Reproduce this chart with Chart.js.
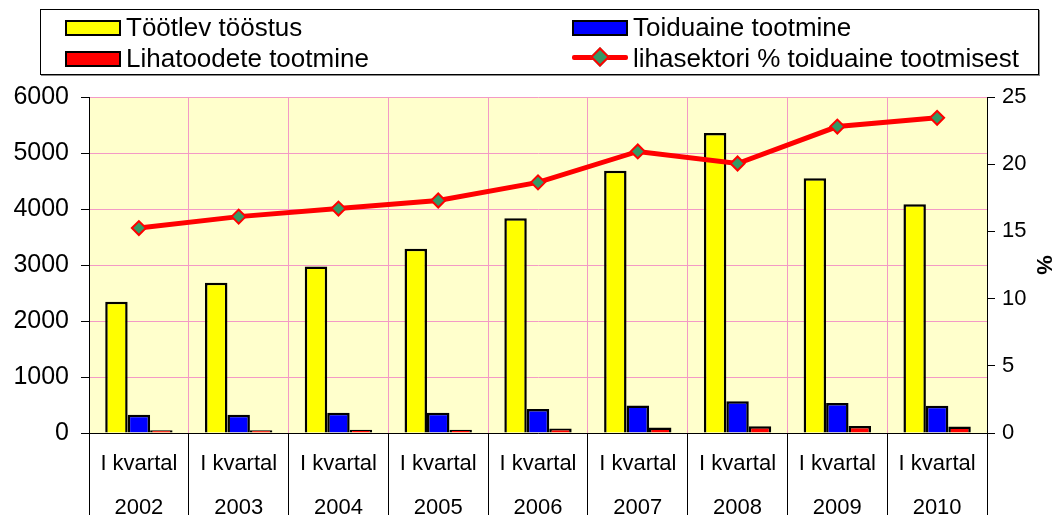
<!DOCTYPE html>
<html>
<head>
<meta charset="utf-8">
<script src="https://cdn.jsdelivr.net/npm/chart.js@4"></script>
<style>
  html, body { margin: 0; padding: 0; background: #fff; overflow: hidden; }
  #wrap { position: absolute; left: 0; top: 0; width: 1056px; height: 540px; }
  #legend {
    position: absolute; left: 40px; top: 9px; width: 999px; height: 66px;
    border: 1px solid #000; box-shadow: 1px 1px 0 #888; box-sizing: border-box;
    font-family: "Liberation Sans", Arial, sans-serif; font-size: 26px; color: #000;
  }
  .item { position: absolute; height: 28px; line-height: 28px; white-space: nowrap; }
  .sw { position: absolute; left: 0; top: 7px; width: 52px; height: 12px; border: 2px solid #000; }
  .item span.txt { position: absolute; left: 61px; top: 0; }
  .ln { position: absolute; left: 0; top: 11px; width: 56px; height: 5px; background: #f00; border-radius: 2px; }
  .dm { position: absolute; left: 21px; top: 6px; width: 10px; height: 10px; background: #339966; border: 2px solid #f00; transform: rotate(45deg); }
</style>
</head>
<body>
<div id="wrap"><canvas id="chart"></canvas></div>
<div id="legend"></div>
<script>
const years = ['2002', '2003', '2004', '2005', '2006', '2007', '2008', '2009', '2010'];
const quarter = 'I kvartal';
const tootlevToostus = [2345, 2685, 2975, 3290, 3835, 4685, 5355, 4550, 4085];
const toiduaineTootmine = [325, 325, 360, 360, 430, 490, 565, 535, 485];
const lihatoodeteTootmine = [50, 50, 60, 60, 80, 100, 120, 127, 115];
const lihaProtsent = [15.25, 16.1, 16.7, 17.3, 18.65, 20.95, 20.05, 22.8, 23.45];
const leftMax = 6000, leftStep = 1000;
const rightMax = 25, rightStep = 5;

const FONT = '"Liberation Sans", Arial, sans-serif';
const GRID_PINK = '#F39AC6';

// light yellow plot area behind the bars
const plotBg = {
  id: 'plotBg',
  beforeDraw(chart) {
    const a = chart.chartArea, ctx = chart.ctx;
    ctx.save();
    ctx.fillStyle = '#FFFFCC';
    ctx.fillRect(a.left, a.top, a.right - a.left, a.bottom - a.top);
    ctx.restore();
  }
};

const ctx = document.getElementById('chart').getContext('2d');
const chart = new Chart(ctx, {
  type: 'bar',
  data: {
    labels: years.map(y => [quarter, y]),
    datasets: [
      {
        type: 'line',
        label: 'lihasektori % toiduaine tootmisest',
        data: lihaProtsent,
        yAxisID: 'y2',
        borderColor: '#FF0000',
        borderWidth: 5,
        pointStyle: 'rectRot',
        pointRadius: 7,
        pointBackgroundColor: '#339966',
        pointBorderColor: '#FF0000',
        pointBorderWidth: 2,
        tension: 0,
        order: 0
      },
      {
        label: 'Töötlev tööstus',
        data: tootlevToostus,
        backgroundColor: '#FFFF00',
        borderColor: '#000',
        borderWidth: 2.5,
        borderSkipped: 'bottom',
        order: 1
      },
      {
        label: 'Toiduaine tootmine',
        data: toiduaineTootmine,
        backgroundColor: '#0000FF',
        borderColor: '#000',
        borderWidth: 2.5,
        borderSkipped: 'bottom',
        order: 1
      },
      {
        label: 'Lihatoodete tootmine',
        data: lihatoodeteTootmine,
        backgroundColor: '#FF0000',
        borderColor: '#000',
        borderWidth: 2.5,
        borderSkipped: 'bottom',
        order: 1
      }
    ]
  },
  options: {
    responsive: true,
    maintainAspectRatio: false,
    animation: false,
    layout: { padding: { top: 97, left: 0, right: 0, bottom: 0 } },
    datasets: { bar: { categoryPercentage: 0.675, barPercentage: 1 } },
    plugins: {
      legend: { display: false },
      tooltip: { enabled: false }
    },
    scales: {
      x: {
        offset: true,
        grid: { color: GRID_PINK, tickColor: '#000', tickLength: 107, offset: true },
        border: { color: '#000', width: 1 },
        ticks: {
          color: '#000',
          font: { family: FONT, size: 22, lineHeight: 2 },
          padding: -98,
          maxRotation: 0,
          autoSkip: false
        },
        afterFit(s) { s.height = 107; }
      },
      y: {
        position: 'left',
        min: 0,
        max: leftMax,
        grid: { color: GRID_PINK, tickColor: '#000', tickLength: 8, lineWidth: 1 },
        border: { color: '#000', width: 1 },
        ticks: {
          stepSize: leftStep,
          color: '#000',
          font: { family: FONT, size: 25 },
          padding: 12,
          callback: v => String(v)
        },
        afterFit(s) { s.width = 89; }
      },
      y2: {
        position: 'right',
        min: 0,
        max: rightMax,
        grid: { drawOnChartArea: false, color: '#000', tickLength: 8 },
        border: { color: '#000', width: 1 },
        ticks: { stepSize: rightStep, color: '#000', font: { family: FONT, size: 22 }, padding: 7 },
        title: {
          display: true,
          text: '%',
          color: '#000',
          font: { family: FONT, size: 22, weight: 'bold' },
          padding: { top: 0, bottom: 0 }
        },
        afterFit(s) { s.width = 69; }
      }
    }
  },
  plugins: [plotBg]
});

// html legend laid out in two columns like the original
const legendItems = [
  { ds: 1, left: 24, top: 3 },
  { ds: 2, left: 531, top: 3 },
  { ds: 3, left: 24, top: 34 },
  { ds: 0, left: 531, top: 34 }
];
const legendEl = document.getElementById('legend');
legendItems.forEach(it => {
  const ds = chart.data.datasets[it.ds];
  const div = document.createElement('div');
  div.className = 'item';
  div.style.left = it.left + 'px';
  div.style.top = it.top + 'px';
  if (ds.type === 'line') {
    div.innerHTML = '<div class="ln"></div><div class="dm"></div>';
  } else {
    div.innerHTML = '<div class="sw" style="background:' + ds.backgroundColor + '"></div>';
  }
  const t = document.createElement('span');
  t.className = 'txt';
  t.textContent = ds.label;
  div.appendChild(t);
  legendEl.appendChild(div);
});
</script>
</body>
</html>
